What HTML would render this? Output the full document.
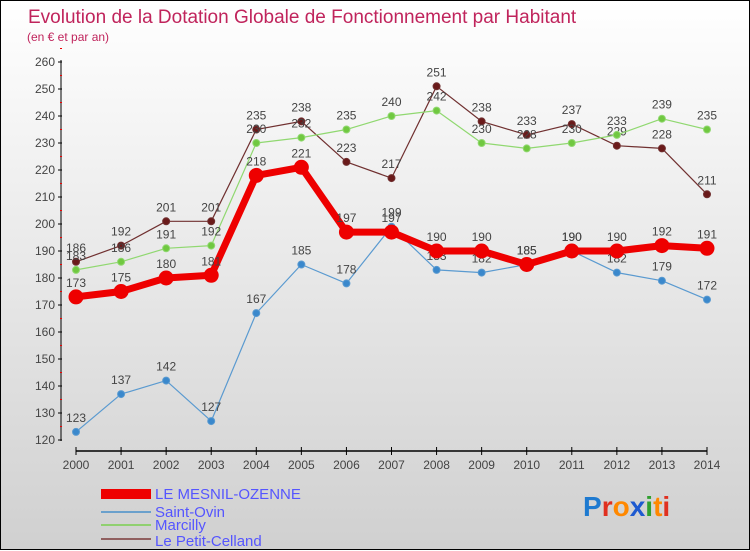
<!DOCTYPE html>
<html><head><meta charset="utf-8"><style>
body{margin:0;width:750px;height:550px;overflow:hidden;font-family:"Liberation Sans",sans-serif}
#wrap{position:relative;width:748px;height:548px;border:1px solid #000;background:linear-gradient(#ffffff,#d0d0d0)}
svg{position:absolute;left:0;top:0}
</style></head><body>
<div id="wrap">
<svg id="chart" width="750" height="550">
<text x="27" y="22" font-size="19" fill="#c0245c">Evolution de la Dotation Globale de Fonctionnement par Habitant</text>
<text x="26" y="40" font-size="12" fill="#c0245c">(en € et par an)</text>
<g id="axes"></g><g id="series"></g>
<g>
<rect x="100" y="536" width="50" height="10" fill="#e00" transform="translate(0,-48)"/>
<text x="154" y="498" font-size="15" fill="#5555ff">LE MESNIL-OZENNE</text>
<line x1="100" x2="150" y1="511" y2="511" stroke="#6aa0cc" stroke-width="2"/>
<text x="154" y="516" font-size="15" fill="#5555ff">Saint-Ovin</text>
<line x1="100" x2="150" y1="524" y2="524" stroke="#90d070" stroke-width="2"/>
<text x="154" y="529" font-size="15" fill="#5555ff">Marcilly</text>
<line x1="100" x2="150" y1="538" y2="538" stroke="#906060" stroke-width="2"/>
<text x="154" y="545" font-size="15" fill="#5555ff">Le Petit-Celland</text>
</g>
<g font-size="28" font-weight="bold">
<text x="582" y="515"><tspan fill="#1e7ad0">P</tspan><tspan fill="#e03020">r</tspan><tspan fill="#ff8800">o</tspan><tspan fill="#1e5ad0">x</tspan><tspan fill="#30a030">i</tspan><tspan fill="#ff8800">t</tspan><tspan fill="#e03020">i</tspan></text>
</g>
</svg>
</div>
<script>
const years=[2000,2001,2002,2003,2004,2005,2006,2007,2008,2009,2010,2011,2012,2013,2014];
const yTicks=[120,130,140,150,160,170,180,190,200,210,220,230,240,250,260];
const mesnil=[173,175,180,181,218,221,197,197,190,190,185,190,190,192,191];
const saintOvin=[123,137,142,127,167,185,178,199,183,182,185,190,182,179,172];
const marcilly=[183,186,191,192,230,232,235,240,242,230,228,230,233,239,235];
const petitCelland=[186,192,201,201,235,238,223,217,251,238,233,237,229,228,211];
const NS="http://www.w3.org/2000/svg";
const xs=i=>75+i*(706-75)/(years.length-1);
const ys=v=>439-(v-120)*(439-61)/140;
function mk(t,a,p){const e=document.createElementNS(NS,t);for(const k in a)e.setAttribute(k,a[k]);p.appendChild(e);return e;}
const ax=document.getElementById('axes');
const yl=mk('line',{x1:60,x2:60,y1:59,y2:440,stroke:'#000','stroke-width':1},ax);


yTicks.forEach(v=>{
 mk('line',{x1:57,x2:61,y1:ys(v),y2:ys(v),stroke:'#000'},ax);
 mk('line',{x1:59,x2:61,y1:ys(v+5),y2:ys(v+5),stroke:'#e00'},ax);
 const t=mk('text',{x:54,y:ys(v)+4,'font-size':12,fill:'#444','text-anchor':'end'},ax);t.textContent=v;
 
 
});
const xl=mk('line',{x1:75,x2:706,y1:450,y2:450,stroke:'#000','stroke-width':1.5},ax);


years.forEach((y,i)=>{
 mk('line',{x1:xs(i),x2:xs(i),y1:446,y2:454,stroke:'#000'},ax);
 const t=mk('text',{x:xs(i),y:468,'font-size':12,fill:'#444','text-anchor':'middle'},ax);t.textContent=y;
 
 
});
const sg=document.getElementById('series');
function draw(data,name,color,w,r,dot){
 const g=mk('g',{},sg);
 
 
 const p=mk('polyline',{points:data.map((v,i)=>xs(i)+','+ys(v)).join(' '),fill:'none',stroke:color,'stroke-width':w,'stroke-linejoin':'round'},g);
 
 
 data.forEach((v,i)=>{
  const c=mk('circle',{cx:xs(i),cy:ys(v),r:r,fill:dot,stroke:color,'stroke-width':1},g);
  
  
  const t=mk('text',{x:xs(i),y:ys(v)-10,'font-size':12,fill:'#444','text-anchor':'middle'},g);t.textContent=v;
  
  
 });
}
draw(petitCelland,'petit-celland','#703030',1.2,3.5,'#6a1a1a');
draw(marcilly,'marcilly','#90d870',1.2,3.5,'#70c840');
draw(saintOvin,'saint-ovin','#5a9ad0',1.2,3.5,'#3a88cc');
draw(mesnil,'mesnil-ozenne','#ee0000',7,7,'#ee0000');
</script>
</body></html>
